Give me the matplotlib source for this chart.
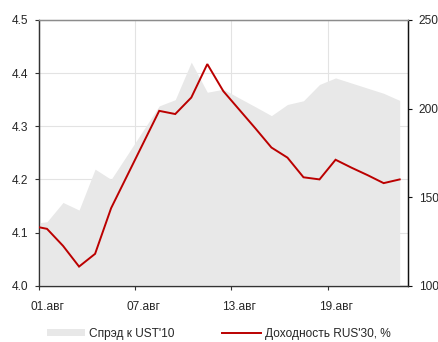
import numpy as np
import matplotlib
matplotlib.use("Agg")
import matplotlib.pyplot as plt
from matplotlib.patches import Patch
from matplotlib.lines import Line2D

plt.rcParams['font.family'] = ['Liberation Sans', 'DejaVu Sans']

# Data (first point, 31.июл, lies just outside the visible range)
dates = ["31.июл"] + ["%02d.авг" % d for d in range(1, 24)]
spread = [135.0, 136.1, 147.0, 142.7, 165.8, 160.0, 173.8, 187.7, 201.5, 205.0,
          226.2, 209.2, 210.9, 205.9, 201.0, 196.0, 202.3, 204.4, 213.6, 217.3,
          214.4, 211.5, 208.6, 204.6]
yield_rus30 = [4.113, 4.107, 4.075, 4.036, 4.060, 4.146, 4.207, 4.268, 4.329, 4.323,
               4.354, 4.417, 4.366, 4.331, 4.296, 4.260, 4.241, 4.204, 4.200, 4.237,
               4.222, 4.208, 4.193, 4.200]
label_dates = ["01.авг", "07.авг", "13.авг", "19.авг"]
left_ticks = [4.0, 4.1, 4.2, 4.3, 4.4, 4.5]
right_ticks = [100, 150, 200, 250]
spread_name = "Спрэд к UST'10"
yield_name = "Доходность RUS'30, %"

AREA = '#e8e8e8'
RED = '#bb0000'
TXT = '#262626'
FS = 8.6

fig = plt.figure(figsize=(4.38, 3.42), dpi=100)
ax = fig.add_axes([0.089, 0.1646, 0.8418, 0.777])
ax2 = ax.twinx()

x = np.arange(len(dates))
ax.set_xlim(0.5, len(dates) - 0.5)
ax.set_ylim(4.0, 4.5)
ax2.set_ylim(100, 250)

# gridlines (behind area)
ax.set_yticks(left_ticks)
ax.set_yticklabels(["%.1f" % v for v in left_ticks])
lab_pos = [dates.index(d) for d in label_dates]
ax.set_xticks([p - 0.5 for p in lab_pos])
ax.set_xticklabels([])
ax.set_xticks(lab_pos, minor=True)
ax.set_xticklabels(label_dates, minor=True)
ax.grid(True, which='major', color='#e3e3e3', lw=0.8)
ax.set_axisbelow(True)

ax.tick_params(axis='y', direction='out', length=3, width=0.8, color='#333333',
               labelsize=FS, labelcolor=TXT, pad=4.5)
ax.tick_params(axis='x', which='major', direction='out', length=3, width=0.8,
               color='#333333')
ax.tick_params(axis='x', which='minor', length=0, labelsize=FS, labelcolor=TXT, pad=11)

# area on right axis
ax2.fill_between(x, 100, spread, color=AREA, lw=0, zorder=1)
# line on left axis scale, drawn above the area
ax2.plot(x, yield_rus30, color=RED, lw=1.4, transform=ax.transData, zorder=3,
         solid_joinstyle='miter')
ax2.set_yticks(right_ticks)
ax2.tick_params(axis='y', direction='out', length=3, width=0.8, color='#111111',
                labelsize=FS, labelcolor=TXT, pad=5)

for a in (ax, ax2):
    a.spines['top'].set_color('#8c8c8c')
    a.spines['left'].set_color('#333333')
    a.spines['bottom'].set_color('#333333')
    a.spines['right'].set_color('#111111')
    for s in a.spines.values():
        s.set_linewidth(0.9)

handles = [Patch(facecolor=AREA, edgecolor='none'),
           Line2D([], [], color=RED, lw=1.4)]
fig.legend(handles, [spread_name, yield_name], loc='center left',
           bbox_to_anchor=(0.107, 0.024), ncol=2, frameon=False, borderpad=0,
           borderaxespad=0, handlelength=3.2, handletextpad=0.35,
           columnspacing=4.0, fontsize=FS, labelcolor=TXT, handleheight=0.6)

fig.savefig("out.png", dpi=100)
